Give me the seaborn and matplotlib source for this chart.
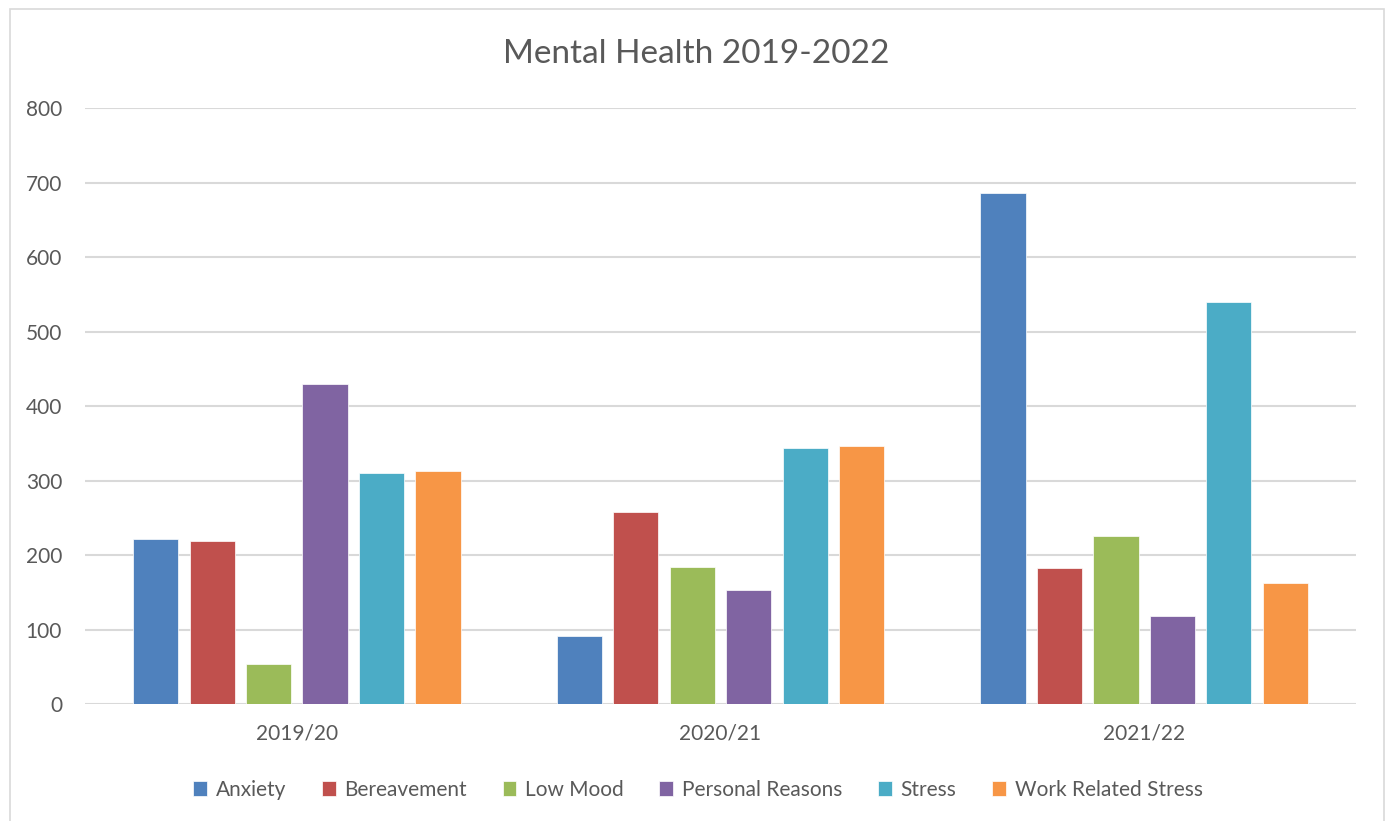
import matplotlib
matplotlib.use("Agg")
import matplotlib.pyplot as plt
from matplotlib.patches import Rectangle
import seaborn as sns
import pandas as pd

years = ["2019/20", "2020/21", "2021/22"]
reasons = ["Anxiety", "Bereavement", "Low Mood", "Personal Reasons", "Stress", "Work Related Stress"]
anxiety = [222, 91, 686]
bereavement = [219, 258, 182]
low_mood = [54, 184, 225]
personal_reasons = [429, 153, 118]
stress = [310, 344, 539]
work_related_stress = [313, 346, 162]
y_ticks = [0, 100, 200, 300, 400, 500, 600, 700, 800]

colors = ["#4F81BD", "#C0504D", "#9BBB59", "#8064A2", "#4BACC6", "#F79646"]

series = [anxiety, bereavement, low_mood, personal_reasons, stress, work_related_stress]
rows = []
for reason, vals in zip(reasons, series):
    for yr, v in zip(years, vals):
        rows.append({"Year": yr, "Reason": reason, "Count": v})
df = pd.DataFrame(rows)

sns.set_theme(style="white")
plt.rcParams["font.family"] = ["Lato", "DejaVu Sans"]
text_color = "#595959"
grid_color = "#D9D9D9"

fig = plt.figure(figsize=(13.89, 8.21), dpi=100)
ax = fig.add_axes([85 / 1389, (821 - 704) / 821, (1356 - 85) / 1389, (704 - 108) / 821])

sns.barplot(data=df, x="Year", y="Count", hue="Reason", hue_order=reasons,
            order=years, palette=colors, saturation=1, width=0.8, gap=0.2,
            edgecolor="#FFFFFF", linewidth=0.5, ax=ax, legend=True)

ax.set_ylim(0, 800)
ax.set_yticks(y_ticks)
ax.set_xlim(-0.5, 2.5)
ax.yaxis.grid(True, color=grid_color, linewidth=1.5)
ax.set_axisbelow(True)
for s in ax.spines.values():
    s.set_visible(False)
ax.tick_params(axis="both", length=0, colors=text_color, labelsize=15)
ax.tick_params(axis="y", pad=16.5)
ax.tick_params(axis="x", pad=14)
ax.set_xlabel("")
ax.set_ylabel("")

handles, labels = ax.get_legend_handles_labels()
ax.get_legend().remove()
fig.legend(handles, labels, loc="center", bbox_to_anchor=(0.5025, 0.038), ncol=6,
           frameon=False, fontsize=15, labelcolor=text_color,
           handlelength=0.66, handleheight=0.66, handletextpad=0.43, columnspacing=1.7)

fig.text(0.501, 1 - 54 / 821, "Mental Health 2019-2022", ha="center", va="center",
         fontsize=24, color=text_color)

fig.patches.append(Rectangle((9.5 / 1389, -0.05), (1384 - 9.5) / 1389, 1.05 - 9.5 / 821,
                             transform=fig.transFigure, fill=False,
                             edgecolor=grid_color, linewidth=1.2))

fig.savefig("out.png", dpi=100, facecolor="white")
